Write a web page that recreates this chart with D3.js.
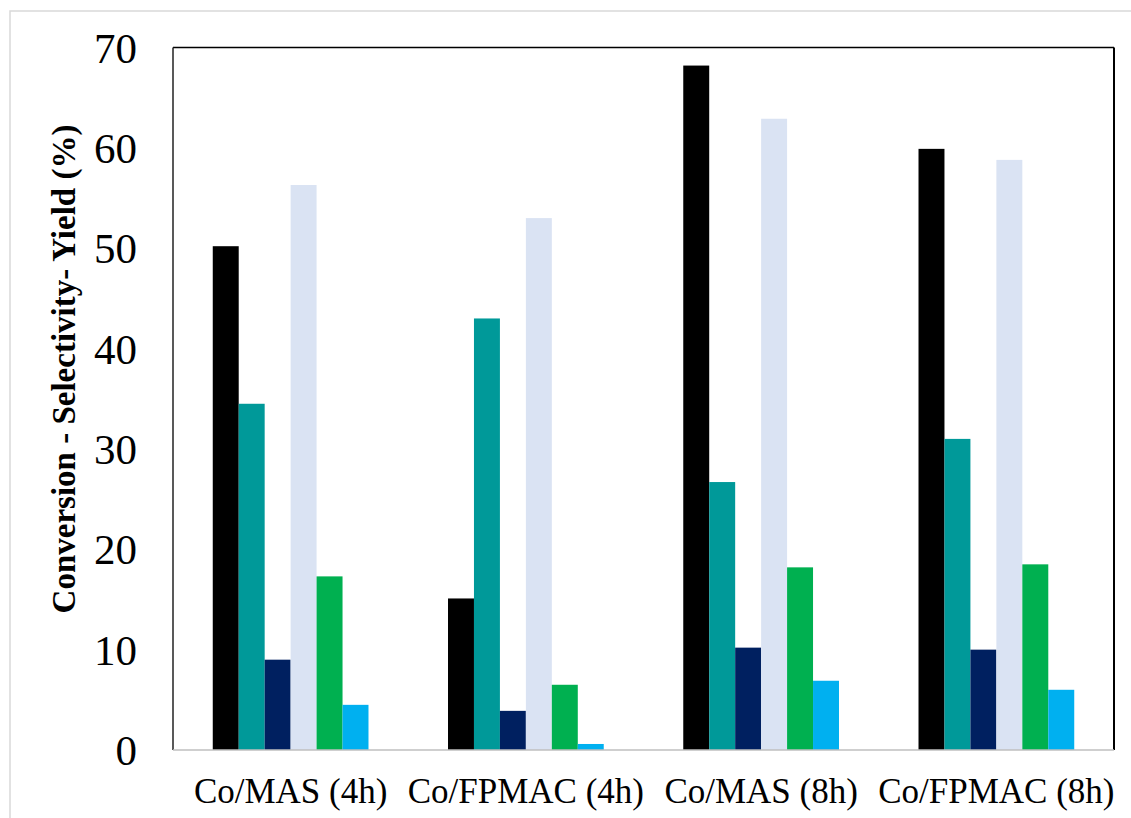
<!DOCTYPE html>
<html>
<head>
<meta charset="utf-8">
<script src="https://cdn.jsdelivr.net/npm/d3@7"></script>
<style>
  html, body { margin: 0; padding: 0; background: #fff; }
  svg { display: block; }
</style>
</head>
<body>
<svg id="chart" width="1131" height="818"></svg>
<script>
// Catalysts / reaction times
const categories = ["Co/MAS (4h)", "Co/FPMAC (4h)", "Co/MAS (8h)", "Co/FPMAC (8h)"];

// Values in %, one array per series
const conversion   = [50.2, 15.1, 68.2, 59.9];
const selectivity1 = [34.5, 43.0, 26.7, 31.0];
const selectivity2 = [9.0, 3.9, 10.2, 10.0];
const selectivity3 = [56.3, 53.0, 62.9, 58.8];
const yield1       = [17.3, 6.5, 18.2, 18.5];
const yield2       = [4.5, 0.6, 6.9, 6.0];

const seriesKeys   = ["conversion", "selectivity1", "selectivity2", "selectivity3", "yield1", "yield2"];
const seriesValues = [conversion, selectivity1, selectivity2, selectivity3, yield1, yield2];
const seriesColors = ["#000000", "#009999", "#002060", "#DAE3F3", "#00B050", "#00B0F0"];

const yTicks = [0, 10, 20, 30, 40, 50, 60, 70];

const svg = d3.select("#chart");

// outer frame
svg.append("rect")
  .attr("x", 10).attr("y", 11)
  .attr("width", 1140).attr("height", 840)
  .attr("fill", "none")
  .attr("stroke", "#d9d9d9")
  .attr("stroke-width", 1.5);

const plot = { left: 173, right: 1114, top: 47.5, bottom: 750 };

const y = d3.scaleLinear().domain([0, 70]).range([plot.bottom, plot.top]);

const x0 = d3.scaleBand()
  .domain(categories)
  .range([plot.left, plot.right])
  .paddingInner(0.338)
  .paddingOuter(0.169);

const x1 = d3.scaleBand()
  .domain(seriesKeys)
  .range([0, x0.bandwidth()]);

const color = d3.scaleOrdinal().domain(seriesKeys).range(seriesColors);

const rows = [];
categories.forEach((c, i) => {
  seriesKeys.forEach((k, j) => rows.push({ cat: c, key: k, value: seriesValues[j][i] }));
});

// bars
svg.append("g")
  .selectAll("rect")
  .data(rows)
  .join("rect")
  .attr("x", d => x0(d.cat) + x1(d.key))
  .attr("y", d => y(d.value))
  .attr("width", x1.bandwidth())
  .attr("height", d => y(0) - y(d.value))
  .attr("fill", d => color(d.key));

// plot frame: black top / left / right, grey baseline
const frame = svg.append("g");
frame.append("line")
  .attr("x1", plot.left).attr("x2", plot.right)
  .attr("y1", plot.top).attr("y2", plot.top)
  .attr("stroke", "#000").attr("stroke-width", 1.5);
frame.append("line")
  .attr("x1", plot.right).attr("x2", plot.right)
  .attr("y1", plot.top).attr("y2", plot.bottom)
  .attr("stroke", "#000").attr("stroke-width", 2);
frame.append("line")
  .attr("x1", plot.left).attr("x2", plot.left)
  .attr("y1", plot.top).attr("y2", plot.bottom)
  .attr("stroke", "#222").attr("stroke-width", 1.5);
frame.append("line")
  .attr("x1", plot.left).attr("x2", plot.right)
  .attr("y1", plot.bottom).attr("y2", plot.bottom)
  .attr("stroke", "#bfbfbf").attr("stroke-width", 1.5);

// y axis labels
const yAxis = d3.axisLeft(y).tickValues(yTicks).tickSize(0).tickPadding(36);
const gy = svg.append("g")
  .attr("transform", `translate(${plot.left},0)`)
  .call(yAxis);
gy.select(".domain").remove();
gy.selectAll("text")
  .attr("font-family", "'Liberation Serif', 'Times New Roman', serif")
  .attr("font-size", 43)
  .attr("fill", "#000")
  .attr("dy", "0.34em");

// x axis labels
const xAxis = d3.axisBottom(x0).tickSize(0).tickPadding(0);
const gx = svg.append("g")
  .attr("transform", `translate(0,${plot.bottom})`)
  .call(xAxis);
gx.select(".domain").remove();
gx.selectAll("text")
  .attr("font-family", "'Liberation Serif', 'Times New Roman', serif")
  .attr("font-size", 35)
  .attr("fill", "#000")
  .attr("dy", null)
  .attr("y", 53);

// y axis title
svg.append("text")
  .attr("transform", "translate(75,369) rotate(-90)")
  .attr("text-anchor", "middle")
  .attr("font-family", "'Liberation Serif', 'Times New Roman', serif")
  .attr("font-weight", "bold")
  .attr("font-size", 33)
  .attr("fill", "#000")
  .text("Conversion - Selectivity- Yield (%)");
</script>
</body>
</html>
